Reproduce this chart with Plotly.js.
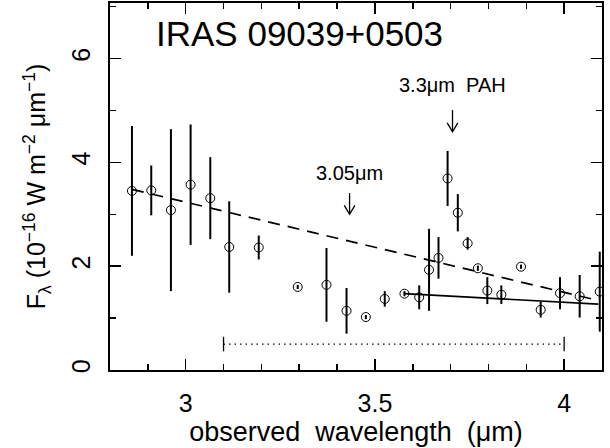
<!DOCTYPE html>
<html>
<head>
<meta charset="utf-8">
<script src="https://cdn.plot.ly/plotly-3.0.1.min.js"></script>
<style>html,body{margin:0;padding:0;background:#fff}#chart{width:610px;height:448px}</style>
</head>
<body>
<div id="chart"></div>
<script>
// Observed wavelength (micron)
const wavelength = [2.858, 2.909, 2.961, 3.013, 3.065, 3.115, 3.193, 3.296, 3.372, 3.425, 3.476, 3.526, 3.578, 3.617, 3.643, 3.668, 3.692, 3.719, 3.745, 3.772, 3.797, 3.834, 3.886, 3.938, 3.989, 4.041, 4.094];
// F_lambda (1e-16 W m^-2 um^-1)
const flux = [3.45, 3.46, 3.08, 3.57, 3.31, 2.37, 2.36, 1.60, 1.64, 1.14, 1.02, 1.37, 1.47, 1.40, 1.93, 2.16, 3.69, 3.03, 2.44, 1.96, 1.53, 1.45, 1.99, 1.16, 1.48, 1.42, 1.51];
const fluxErr = [1.25, 0.48, 1.56, 1.16, 0.79, 0.88, 0.23, 0.04, 0.71, 0.44, 0.04, 0.15, 0.05, 0.23, 0.79, 0.40, 0.53, 0.36, 0.12, 0.05, 0.26, 0.18, 0.04, 0.15, 0.31, 0.41, 0.77];
// Continuum fits
const dashedX = [2.858, 4.09];
const dashedY = [3.48, 1.34];
const solidX = [3.578, 4.09];
const solidY = [1.47, 1.27];
// Spectral range bar
const rangeX = [3.1, 4.0];
const rangeY = [0.5, 0.5];
const rangeCap = [0.14, 0.14];
// Feature markers (observed wavelength, arrow top, arrow bottom, label y)
const featureNames = ['3.05\u03bcm', '3.3\u03bcm\u00a0\u00a0PAH'];
const featureX = [3.433, 3.705];
const featureTop = [3.41, 5.01];
const featureBot = [3.00, 4.59];
const featureLabelY = [3.80, 5.50];

const FONT = '"Liberation Sans", Arial, sans-serif';

const traces = [
  {x: dashedX, y: dashedY, mode: 'lines', line: {color: '#000', width: 1.7, dash: '12px,8px'}, hoverinfo: 'skip'},
  {x: solidX, y: solidY, mode: 'lines', line: {color: '#000', width: 1.7}, hoverinfo: 'skip'},
  {x: rangeX, y: rangeY, mode: 'lines', line: {color: '#000', width: 1.3, dash: '1.5px,4px'},
   error_y: {type: 'data', array: rangeCap, visible: true, width: 0, thickness: 1.3, color: '#000'}, hoverinfo: 'skip'},
  {x: wavelength, y: flux, mode: 'markers', marker: {symbol: 'circle-open', size: 9, color: '#000', line: {width: 1, color: '#000'}},
   error_y: {type: 'data', array: fluxErr, visible: true, width: 0, thickness: 2, color: '#000'}}
];

const shapes = [];
const annotations = [{
  text: 'IRAS 09039+0503', xref: 'paper', yref: 'paper', x: 0.09, y: 0.917, xanchor: 'left', yanchor: 'middle',
  showarrow: false, font: {family: FONT, size: 35, color: '#000'}
}];
for (let i = 0; i < featureX.length; i++) {
  const hx = 0.014, hy = 0.17;
  shapes.push({type: 'path', xref: 'x', yref: 'y',
    path: `M${featureX[i]},${featureTop[i]} L${featureX[i]},${featureBot[i]} M${featureX[i]-hx},${featureBot[i]+hy} L${featureX[i]},${featureBot[i]} L${featureX[i]+hx},${featureBot[i]+hy}`,
    line: {color: '#000', width: 1.3}});
  annotations.push({text: featureNames[i], x: featureX[i], y: featureLabelY[i], xref: 'x', yref: 'y',
    showarrow: false, xanchor: 'center', yanchor: 'middle', font: {family: FONT, size: 20, color: '#000'}});
}

const axisCommon = {
  showline: true, linewidth: 2, linecolor: '#000', mirror: 'allticks', ticks: 'inside', ticklen: 11, tickwidth: 1.5, tickcolor: '#000',
  showgrid: false, zeroline: false, tickfont: {family: FONT, size: 25, color: '#000'}
};

const layout = {
  width: 610, height: 448,
  margin: {l: 110, r: 8, t: 3, b: 78},
  paper_bgcolor: '#fff', plot_bgcolor: '#fff',
  showlegend: false,
  font: {family: FONT, color: '#000'},
  xaxis: Object.assign({}, axisCommon, {
    range: [2.8, 4.1], tickvals: [3, 3.5, 4], ticktext: ['3', '3.5', '4'],
    minor: {dtick: 0.1, tick0: 0, ticks: 'inside', ticklen: 6, tickwidth: 1.5, tickcolor: '#000'},
    ticklabelstandoff: 10,
    title: {text: 'observed\u00a0\u00a0wavelength\u00a0\u00a0(\u03bcm)', font: {family: FONT, size: 27, color: '#000'}, standoff: 0}
  }),
  yaxis: Object.assign({}, axisCommon, {
    range: [0, 7.07], tickvals: [0, 2, 4, 6], ticktext: ['0', '2', '4', '6'], tickangle: -90,
    minor: {dtick: 1, tick0: 0, ticks: 'inside', ticklen: 6, tickwidth: 1.5, tickcolor: '#000'},
    ticklabelstandoff: 8,
    title: {text: 'F<sub>\u03bb</sub>\u00a0(10<sup>\u221216</sup>\u00a0W\u00a0m<sup>\u22122</sup>\u00a0\u03bcm<sup>\u22121</sup>)', font: {family: FONT, size: 25, color: '#000'}, standoff: 14}
  }),
  shapes: shapes,
  annotations: annotations
};

Plotly.newPlot('chart', traces, layout, {staticPlot: true, displayModeBar: false});
</script>
</body>
</html>
